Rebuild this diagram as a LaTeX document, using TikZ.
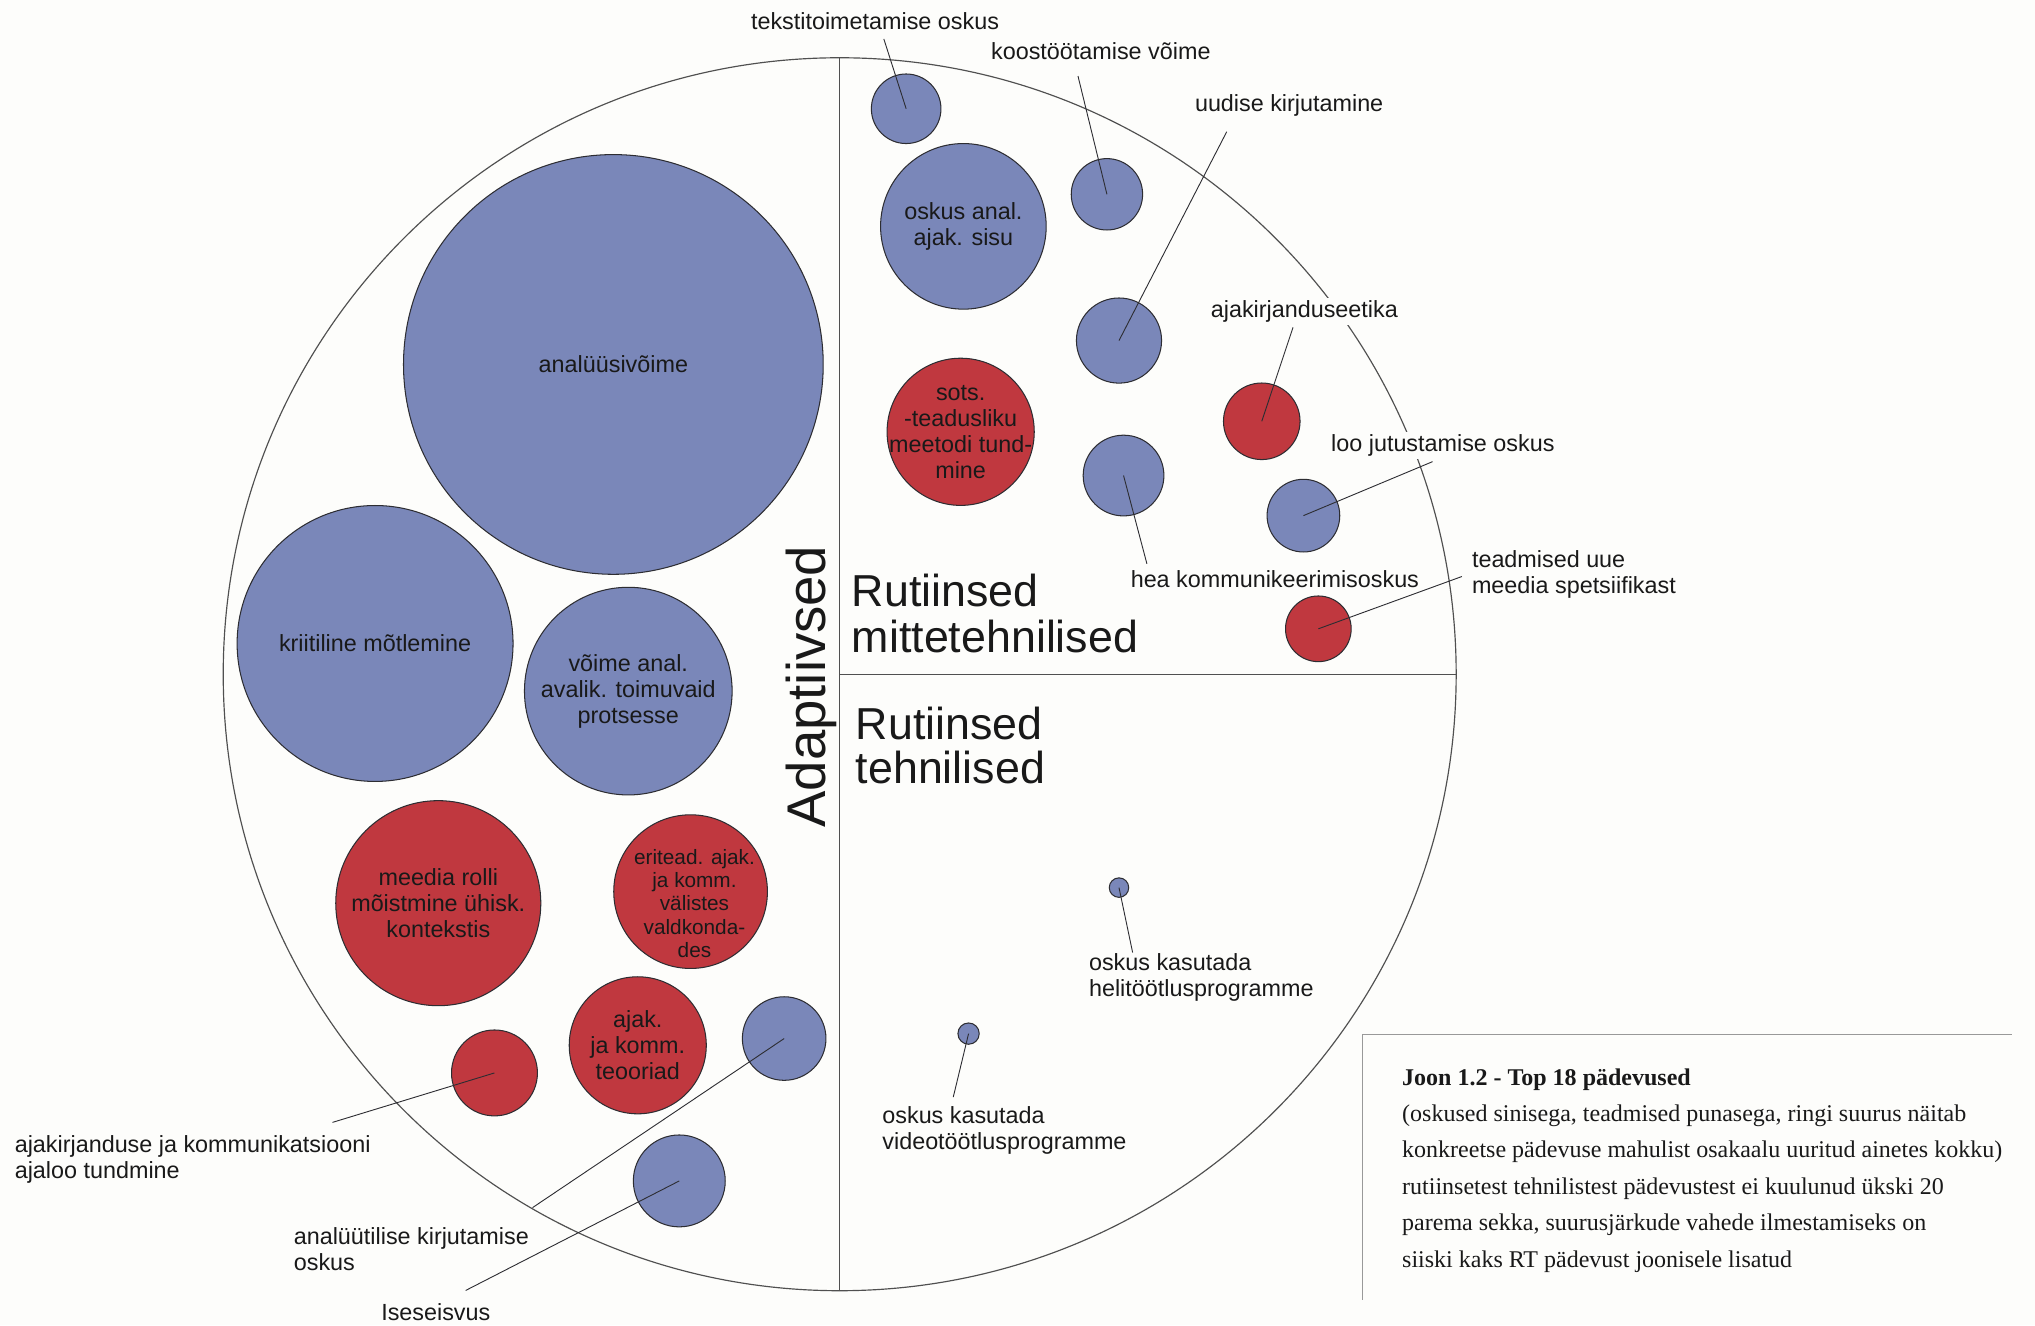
\documentclass[tikz,border=0pt]{standalone}
\usepackage{fontspec}
\setmainfont{Liberation Sans}
\newfontfamily\captionfont{Liberation Serif}
\definecolor{skill}{RGB}{122,135,185}
\definecolor{knowl}{RGB}{192,56,63}
\definecolor{paper}{RGB}{253,253,251}
\definecolor{edge}{RGB}{45,45,50}
\definecolor{ring}{RGB}{80,80,80}
\definecolor{ink}{RGB}{25,25,25}

\begin{document}
\begin{tikzpicture}[x=1pt,y=-1pt,line width=0.8pt,
			kring/.style={circle,draw=edge,inner sep=0pt,minimum size=#1},
			oskus/.style={kring=#1,fill=skill},
			teadm/.style={kring=#1,fill=knowl},
			sees/.style={align=center,text=ink,font=\fontsize{18}{20}\selectfont},
			silt/.style={fill=paper,inner sep=2pt,align=left,text=ink,font=\fontsize{18}{20}\selectfont},
			pealk/.style={inner sep=0pt,align=left,text=ink,font=\fontsize{34.5}{35}\selectfont},
			joon/.style={draw=edge,line width=0.7pt}
		]
			\path[use as bounding box,fill=paper] (0,0) rectangle (1568,1021);

			\node[circle,draw=ring,line width=0.9pt,inner sep=0pt,minimum size=950] (ring) at (647,519.5){};
			\draw[ring,line width=0.9pt] (ring.north) -- (ring.south);
			\draw[ring,line width=0.9pt] (ring.center) -- (ring.east);

			% adaptiivsed
			\node[oskus=323.4,label={[sees]center:analüüsivõime}] (anal) at (472.6,280.8){};
			\node[oskus=212.6,label={[sees]center:kriitiline mõtlemine}] (kriit) at (289,495.8){};
			\node[oskus=160,label={[sees]center:{võime anal.\\avalik. toimuvaid\\protsesse}}] (voime) at (484.1,532.5){};
			\node[teadm=158,label={[sees]center:{meedia rolli\\mõistmine ühisk.\\kontekstis}}] (meedia) at (337.7,695.9){};
			\node[teadm=118.4,label={[sees,font=\fontsize{16}{18}\selectfont,xshift=3pt,yshift=-9pt]center:{eritead. ajak.\\ja komm.\\välistes\\valdkonda-\\des}}] (eritead) at (532.1,687){};
			\node[teadm=105.6,label={[sees]center:{ajak.\\ja komm.\\teooriad}}] (teoor) at (491.4,805.4){};
			\node[teadm=66.2] (ajalugu) at (381,826.7){};
			\node[oskus=64.4] (kirj) at (604.2,800.2){};
			\node[oskus=70.8] (isesei) at (523.4,909.9){};

			% rutiinsed mittetehnilised
			\node[oskus=53.6] (tekst) at (698.2,83.8){};
			\node[oskus=127.6,label={[sees]center:{oskus anal.\\ajak. sisu}}] (sisu) at (742.3,174.4){};
			\node[oskus=55] (koost) at (852.9,149.7){};
			\node[oskus=65.6] (uudis) at (862.2,262.4){};
			\node[teadm=113.4,label={[sees]center:{sots.\\-teadusliku\\meetodi tund-\\mine}}] (sots) at (740.2,332.7){};
			\node[teadm=59] (eetika) at (972.2,324.6){};
			\node[oskus=62.2] (komm) at (865.7,366.4){};
			\node[oskus=56] (loo) at (1004.3,397.3){};
			\node[teadm=50.6] (uusmeedia) at (1015.8,484.5){};

			% rutiinsed tehnilised
			\node[oskus=15] (heli) at (862.2,683.9){};
			\node[oskus=16.4] (video) at (746.3,796.4){};

			\node[rotate=90,anchor=base,inner sep=0pt,text=ink,font=\fontsize{42}{44}\selectfont] (adapt) at (636,529){Adaptiivsed};
			\node[pealk,anchor=north west] (rmt) at (656,442){Rutiinsed\\mittetehnilised};
			\node[pealk,anchor=north west,font=\fontsize{34.5}{34}\selectfont] (rt) at (659,544.5){Rutiinsed\\tehnilised};

			\node[silt,anchor=base] (Ltekst) at (674.2,22.8){tekstitoimetamise oskus};
			\node[silt,anchor=base] (Lkoost) at (848.2,45.6){koostöötamise võime};
			\node[silt,anchor=base] (Luudis) at (993.3,86.2){uudise kirjutamine};
			\node[silt,anchor=base] (Leetika) at (1005,244.7){ajakirjanduseetika};
			\node[silt,anchor=base west] (Lloo) at (1023.3,348.2){loo jutustamise oskus};
			\node[silt,anchor=base] (Lkomm) at (982.3,452.3){hea kommunikeerimisoskus};
			\node[silt,anchor=north west] (Luus) at (1131.8,421.8){teadmised uue\\meedia spetsiifikast};
			\node[silt,anchor=north west] (Lheli) at (836.7,732.7){oskus kasutada\\helitöötlusprogramme};
			\node[silt,anchor=north west] (Lvideo) at (677.5,849.9){oskus kasutada\\videotöötlusprogramme};
			\node[silt,anchor=north west] (Lajalugu) at (9,872.7){ajakirjanduse ja kommunikatsiooni\\ajaloo tundmine};
			\node[silt,anchor=north west] (Lkirj) at (224,943.3){analüütilise kirjutamise\\oskus};
			\node[silt,anchor=base] (Lisesei) at (335.8,1017.5){Iseseisvus};

			\coordinate (etekst) at (681,30);
			\coordinate (ekoost) at (830.6,58.6);
			\coordinate (euudis) at (945.2,101.5);
			\coordinate (eeetika) at (996.3,252.2);
			\coordinate (ekomm) at (883.7,434.4);
			\coordinate (eloo) at (1103.8,355.7);
			\coordinate (euus) at (1126.4,444.2);
			\coordinate (eheli) at (872.7,733.9);
			\coordinate (evideo) at (734.5,845.3);
			\coordinate (eajalugu) at (256.2,864.8);
			\coordinate (ekirj) at (410.3,930.5);
			\coordinate (eisesei) at (358.8,994.3);

			\draw[joon] (etekst) -- (tekst.center);
			\draw[joon] (ekoost) -- (koost.center);
			\draw[joon] (euudis) -- (uudis.center);
			\draw[joon] (eeetika) -- (eetika.center);
			\draw[joon] (ekomm) -- (komm.center);
			\draw[joon] (eloo) -- (loo.center);
			\draw[joon] (euus) -- (uusmeedia.center);
			\draw[joon] (eheli) -- (heli.center);
			\draw[joon] (evideo) -- (video.center);
			\draw[joon] (eajalugu) -- (ajalugu.center);
			\draw[joon] (ekirj) -- (kirj.center);
			\draw[joon] (eisesei) -- (isesei.center);

			\draw[gray!80] (1550,797.4) -- (1049.8,797.4) -- (1049.8,1001.5);
			\node[anchor=north west,inner sep=0pt,align=left,text=ink,font=\captionfont\fontsize{18.5}{28}\selectfont] (capt) at (1080,823){\textbf{Joon 1.2 - Top 18 pädevused}\\(oskused sinisega, teadmised punasega, ringi suurus näitab\\konkreetse pädevuse mahulist osakaalu uuritud ainetes kokku)\\rutiinsetest tehnilistest pädevustest ei kuulunud ükski 20\\parema sekka, suurusjärkude vahede ilmestamiseks on\\siiski kaks RT pädevust joonisele lisatud};
		\end{tikzpicture}
\end{document}
